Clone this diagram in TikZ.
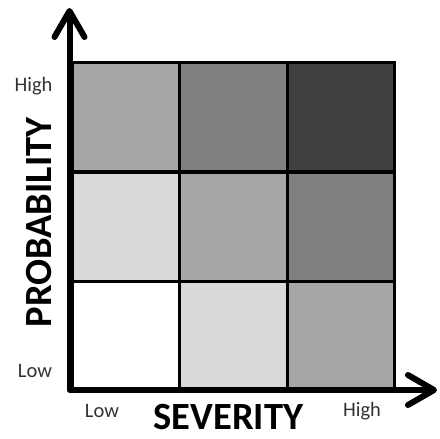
\documentclass[tikz,border=0pt]{standalone}
\usepackage{fontspec}
\setmainfont{Carlito}
\usepackage{tikz}
\usetikzlibrary{arrows.meta, positioning}

\definecolor{riskLow}{gray}{1.0}
\definecolor{riskMin}{gray}{0.85}
\definecolor{riskMed}{gray}{0.65}
\definecolor{riskHigh}{gray}{0.5}
\definecolor{riskMax}{gray}{0.25}

\begin{document}
\begin{tikzpicture}[
        x=1pt, y=-1pt,
        cell/.style={rectangle, draw, line width=3pt, minimum width=107.5pt, minimum height=109pt, inner sep=0pt},
        axis/.style={line width=6pt, line join=round, {Straight Barb[length=26pt, width=30pt, line width=6pt, round]}-{Straight Barb[length=26pt, width=30pt, line width=6pt, round]}},
        tick/.style={font=\fontsize{20.5}{24}\selectfont, text=black!80, anchor=base, inner sep=0pt},
        title/.style={font=\fontsize{38.5}{42}\selectfont\bfseries, anchor=base, inner sep=0pt}
    ]
    \useasboundingbox (0,0) rectangle (440,439);

    % risk cells, row by row from the top
    \node[cell, fill=riskMed]  (c13) at (126,117)   {};
    \node[cell, fill=riskHigh] (c23) at (233.5,117) {};
    \node[cell, fill=riskMax]  (c33) at (341,117)   {};
    \node[cell, fill=riskMin]  (c12) at (126,226.5)   {};
    \node[cell, fill=riskMed]  (c22) at (233.5,226.5) {};
    \node[cell, fill=riskHigh] (c32) at (341,226.5)   {};
    \node[cell, fill=riskLow]  (c11) at (126,335.5)   {};
    \node[cell, fill=riskMin]  (c21) at (233.5,335.5) {};
    \node[cell, fill=riskMed]  (c31) at (341,335.5)   {};

    % axes
    \coordinate (origin) at (69.5,390);
    \coordinate (ytip) at (69.5,8);
    \coordinate (xtip) at (437,390);
    \draw[axis] (ytip) -- (origin) -- (xtip);

    % labels
    \node[tick] (yhigh) at (33.5,91)  {High};
    \node[tick] (ylow)  at (35,377)   {Low};
    \node[tick] (xlow)  at (102,417.5) {Low};
    \node[tick] (xhigh) at (362,416.5) {High};
    \node[title, rotate=90] (prob) at (52,222.5) {PROBABILITY};
    \node[title] (sev) at (228.5,429) {SEVERITY};
\end{tikzpicture}
\end{document}
